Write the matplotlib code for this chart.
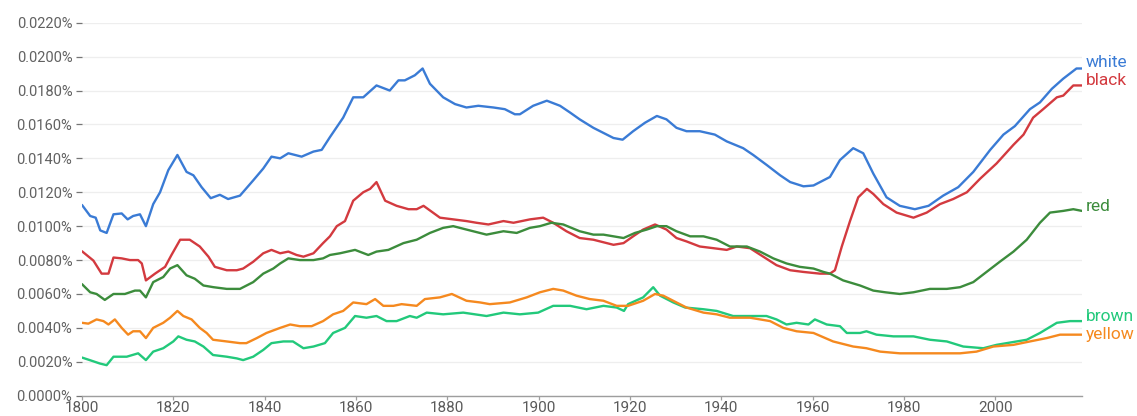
import matplotlib
matplotlib.use("Agg")
import matplotlib.pyplot as plt
from matplotlib.ticker import FuncFormatter

plt.rcParams['font.family'] = ['Roboto', 'DejaVu Sans']

# values in percent
white_years = [1800, 1801.8, 1803, 1804, 1805.4, 1806.9, 1808.7, 1810, 1811.2, 1812.7, 1814, 1815.6,
               1817.1, 1818.9, 1820.9, 1822.9, 1824.4, 1826.2, 1828.2, 1830.2, 1832, 1834.6, 1837.5,
               1839.7, 1841.5, 1843.4, 1845.2, 1848.1, 1850.7, 1852.5, 1854.3, 1857.2, 1859.4, 1861.6,
               1864.5, 1867.4, 1869.3, 1870.7, 1872.9, 1874.6, 1876.2, 1879.1, 1881.7, 1884.2, 1886.8,
               1890.1, 1892.6, 1894.8, 1895.9, 1898.8, 1901.8, 1904.7, 1906.9, 1909, 1912, 1914.2,
               1916.4, 1918.4, 1920.7, 1923.3, 1925.9, 1928, 1930.2, 1932.4, 1935.3, 1938.6, 1941.2,
               1944.8, 1947, 1950, 1952.9, 1955.1, 1958, 1960.2, 1963.8, 1966, 1968.9, 1971.1, 1973.3,
               1976.2, 1979.1, 1982.4, 1985.4, 1988.6, 1991.9, 1995.2, 1998.9, 2001.8, 2004.3, 2007.6,
               2009.8, 2012.4, 2014.9, 2017.8, 2019]
white = [0.01125, 0.0106, 0.0105, 0.00975, 0.0096, 0.0107, 0.01075, 0.0104, 0.0106, 0.0107, 0.0100, 0.0113,
         0.0120, 0.0133, 0.0142, 0.0132, 0.0130, 0.0123, 0.01165, 0.01185, 0.0116, 0.0118, 0.0127,
         0.0134, 0.0141, 0.0140, 0.0143, 0.0141, 0.0144, 0.0145, 0.01525, 0.0164, 0.0176, 0.0176,
         0.0183, 0.0180, 0.0186, 0.0186, 0.0189, 0.0193, 0.0184, 0.0176, 0.0172, 0.0170, 0.0171,
         0.0170, 0.0169, 0.0166, 0.0166, 0.0171, 0.0174, 0.0171, 0.0167, 0.0163, 0.0158, 0.0155,
         0.0152, 0.0151, 0.0156, 0.0161, 0.0165, 0.0163, 0.0158, 0.0156, 0.0156, 0.0154, 0.0150,
         0.0146, 0.0142, 0.0136, 0.0130, 0.0126, 0.01235, 0.0124, 0.0129, 0.0139, 0.0146, 0.0143, 0.0131,
         0.0117, 0.0112, 0.0110, 0.0112, 0.0118, 0.0123, 0.0132, 0.0145, 0.0154, 0.0159, 0.0169,
         0.0173, 0.0181, 0.0187, 0.0193, 0.0193]

black_years = [1800, 1802.5, 1804.3, 1805.8, 1806.9, 1808.7, 1810.5, 1812.3, 1813.1, 1814, 1816, 1818.2,
               1819.6, 1821.5, 1823.6, 1825.8, 1827.7, 1829.1, 1831.7, 1833.9, 1835.3, 1837.5, 1839.7,
               1841.5, 1843.4, 1845.2, 1847, 1848.5, 1850.7, 1852.8, 1854.3, 1855.8, 1857.6, 1859.4,
               1861.6, 1863.1, 1864.5, 1866.4, 1868.9, 1871.5, 1873.3, 1874.8, 1878.4, 1881.3, 1884.2,
               1886.4, 1889, 1892.3, 1894.5, 1898.1, 1901, 1903.2, 1906.1, 1909, 1912, 1916.4, 1918.6,
               1920.7, 1922.9, 1925.5, 1928, 1930.2, 1932.4, 1935.3, 1938.3, 1941.2, 1943.4, 1946.3,
               1949.2, 1952.1, 1955.1, 1958, 1961.6, 1963.8, 1964.9, 1966.4, 1968.2, 1970, 1971.9,
               1973.3, 1975.5, 1978.4, 1982.1, 1985, 1987.9, 1990.8, 1993.8, 1996.7, 2000.3, 2004,
               2006.2, 2008.3, 2010.5, 2013.5, 2014.9, 2017.1, 2019]
black = [0.00852, 0.00797, 0.0072, 0.0072, 0.00815, 0.0081, 0.0080, 0.0080, 0.0078, 0.0068, 0.0072, 0.0076,
         0.0083, 0.0092, 0.0092, 0.0088, 0.0082, 0.0076, 0.0074, 0.0074, 0.0075, 0.0079, 0.0084,
         0.0086, 0.0084, 0.0085, 0.0083, 0.0082, 0.0084, 0.0090, 0.0094, 0.0100, 0.0103, 0.0115,
         0.0120, 0.0122, 0.0126, 0.0115, 0.0112, 0.0110, 0.0110, 0.0112, 0.0105, 0.0104, 0.0103,
         0.0102, 0.0101, 0.0103, 0.0102, 0.0104, 0.0105, 0.0102, 0.0097, 0.0093, 0.0092, 0.0089, 0.0090,
         0.0094, 0.0098, 0.0101, 0.0098, 0.0093, 0.0091, 0.0088, 0.0087, 0.0086, 0.0088, 0.0087,
         0.0082, 0.0077, 0.0074, 0.0073, 0.0072, 0.0072, 0.0074, 0.0088, 0.0103, 0.0117, 0.0122,
         0.0119, 0.0113, 0.0108, 0.0105, 0.0108, 0.0113, 0.0116, 0.0120, 0.0128, 0.0137, 0.0148,
         0.0154, 0.0164, 0.0169, 0.0176, 0.0177, 0.0183, 0.0183]

red_years = [1800, 1801.8, 1803.2, 1805, 1806.9, 1809.4, 1811.6, 1812.7, 1814, 1815.6, 1817.8, 1819.3,
             1820.9, 1822.9, 1824.7, 1826.6, 1828.8, 1831.7, 1834.6, 1837.5, 1839.7, 1841.9, 1843.4,
             1845.2, 1847.7, 1850.7, 1852.8, 1854.3, 1856.5, 1859.8, 1862.7, 1864.5, 1867.1, 1870.4,
             1873.3, 1876.2, 1879.1, 1881.3, 1884.2, 1888.6, 1892.3, 1895.2, 1898.1, 1900.3, 1902.8,
             1905.4, 1909, 1912, 1914.2, 1916.4, 1918.6, 1921.1, 1923.7, 1925.9, 1928, 1930.2, 1933.2,
             1936.1, 1939, 1941.9, 1945.6, 1948.5, 1951.4, 1954.3, 1957.2, 1960.2, 1962.4, 1963.8,
             1966.7, 1970.4, 1973.3, 1975.9, 1979.1, 1982.1, 1985.7, 1989.4, 1992.3, 1995.2, 1998.1,
             2001, 2004, 2006.9, 2009.8, 2012, 2014.9, 2017.1, 2019]
red = [0.00658, 0.0061, 0.0060, 0.00565, 0.0060, 0.0060, 0.0062, 0.0062, 0.0058, 0.0067, 0.0070, 0.0075,
       0.0077, 0.0071, 0.0069, 0.0065, 0.0064, 0.0063, 0.0063, 0.0067, 0.0072, 0.0075, 0.0078,
       0.0081, 0.0080, 0.0080, 0.0081, 0.0083, 0.0084, 0.0086, 0.0083, 0.0085, 0.0086, 0.0090,
       0.0092, 0.0096, 0.0099, 0.0100, 0.0098, 0.0095, 0.0097, 0.0096, 0.0099, 0.0100, 0.0102,
       0.0101, 0.0097, 0.0095, 0.0095, 0.0094, 0.0093, 0.0096, 0.0098, 0.0100, 0.0100, 0.0097, 0.0094,
       0.0094, 0.0092, 0.0088, 0.0088, 0.0085, 0.0081, 0.0078, 0.0076, 0.0075, 0.0073, 0.0072,
       0.0068, 0.0065, 0.0062, 0.0061, 0.0060, 0.0061, 0.0063, 0.0063, 0.0064, 0.0067, 0.0073,
       0.0079, 0.0085, 0.0092, 0.0102, 0.0108, 0.0109, 0.0110, 0.0109]

brown_years = [1800, 1801.7, 1803.9, 1805.4, 1806.9, 1809.8, 1812.3, 1814, 1815.6, 1817.8, 1820, 1821.1,
               1822.9, 1824.7, 1826.6, 1828.7, 1831.7, 1833.9, 1835.3, 1837.5, 1839.7, 1841.5, 1844.1,
               1846.2, 1848.5, 1850.7, 1853.2, 1855, 1857.6, 1859.8, 1862.3, 1864.5, 1866.7, 1868.9,
               1871.8, 1873.3, 1875.5, 1879.1, 1883.5, 1888.6, 1892.3, 1895.9, 1899.9, 1903.2, 1906.9,
               1910.5, 1914.2, 1917.1, 1918.7, 1919.6, 1922.9, 1925.1, 1926.6, 1929.5, 1932.1, 1936.1,
               1939, 1942.6, 1946.3, 1949.9, 1952.1, 1954.3, 1956.5, 1959.1, 1960.5, 1963.1, 1966,
               1967.5, 1970.4, 1971.8, 1974, 1977.7, 1982.1, 1985.7, 1989.4, 1993, 1997.4, 2000.3,
               2004.7, 2006.9, 2009.8, 2013.5, 2016.4, 2019]
brown = [0.00225, 0.0021, 0.0019, 0.0018, 0.0023, 0.0023, 0.0025, 0.0021, 0.0026, 0.0028, 0.0032, 0.0035,
         0.0033, 0.0032, 0.0029, 0.0024, 0.0023, 0.0022, 0.0021, 0.0023, 0.0027, 0.0031, 0.0032,
         0.0032, 0.0028, 0.0029, 0.0031, 0.0037, 0.0040, 0.0047, 0.0046, 0.0047, 0.0044, 0.0044,
         0.0047, 0.0046, 0.0049, 0.0048, 0.0049, 0.0047, 0.0049, 0.0048, 0.0049, 0.0053, 0.0053,
         0.0051, 0.0053, 0.0052, 0.0050, 0.0054, 0.0058, 0.0064, 0.0059, 0.0055, 0.0052, 0.0051,
         0.0050, 0.0047, 0.0047, 0.0047, 0.0045, 0.0042, 0.0043, 0.0042, 0.0045, 0.0042, 0.0041,
         0.0037, 0.0037, 0.0038, 0.0036, 0.0035, 0.0035, 0.0033, 0.0032, 0.0029, 0.0028, 0.0030,
         0.0032, 0.0033, 0.0037, 0.0043, 0.0044, 0.0044]

yellow_years = [1800, 1801.4, 1803.2, 1804.7, 1805.8, 1807.2, 1808.7, 1810.1, 1811.2, 1812.7, 1814, 1815.6,
                1817.8, 1819.3, 1820.9, 1822.2, 1824, 1825.8, 1827.3, 1828.7, 1831.7, 1834.6, 1836,
                1838.3, 1840.4, 1843.4, 1845.6, 1847.7, 1850.3, 1852.8, 1855, 1857.2, 1859.4, 1862.3,
                1864.2, 1866, 1868.2, 1870, 1873.3, 1875.1, 1878.4, 1881, 1884.2, 1887.2, 1889.3, 1893.7,
                1897.4, 1900.3, 1903.2, 1905.4, 1908.3, 1911.2, 1914.2, 1917.1, 1919.6, 1922.9, 1925.5,
                1927.3, 1930.2, 1932.4, 1936.1, 1939, 1941.9, 1946.3, 1950.7, 1953.6, 1956.5, 1960.2,
                1964.5, 1968.9, 1971.8, 1974.8, 1979.1, 1984.3, 1992.3, 1995.9, 1999.6, 2004, 2007.6,
                2011.3, 2014.2, 2019]
yellow = [0.0043, 0.00425, 0.0045, 0.0044, 0.0042, 0.0045, 0.0040, 0.0036, 0.0038, 0.0038, 0.0034, 0.0040,
          0.0043, 0.0046, 0.0050, 0.0047, 0.0045, 0.0040, 0.0037, 0.0033, 0.0032, 0.0031, 0.0031,
          0.0034, 0.0037, 0.0040, 0.0042, 0.0041, 0.0041, 0.0044, 0.0048, 0.0050, 0.0055, 0.0054,
          0.0057, 0.0053, 0.0053, 0.0054, 0.0053, 0.0057, 0.0058, 0.0060, 0.0056, 0.0055, 0.0054, 0.0055,
          0.0058, 0.0061, 0.0063, 0.0062, 0.0059, 0.0057, 0.0056, 0.0053, 0.0053, 0.0056, 0.0060,
          0.0059, 0.0055, 0.0052, 0.0049, 0.0048, 0.0046, 0.0046, 0.0044, 0.0040, 0.0038, 0.0037,
          0.0032, 0.0029, 0.0028, 0.0026, 0.0025, 0.0025, 0.0025, 0.0026, 0.0029, 0.0030, 0.0032,
          0.0034, 0.0036, 0.0036]

series = [
    ("white", white_years, white, "#3a7bd5", 4.0),
    ("black", black_years, black, "#d33a3f", 3.2),
    ("red", red_years, red, "#3c8c3c", 3.0),
    ("brown", brown_years, brown, "#22c97b", 3.6),
    ("yellow", yellow_years, yellow, "#f5891f", 0.0),
]

fig = plt.figure(figsize=(11.37, 4.16), dpi=100)
ax = fig.add_axes([0.0721, 0.0488, 0.8795, 0.8966])

for name, xs, ys, color, dy in series:
    ax.plot(xs, ys, color=color, lw=1.7, solid_joinstyle="round", solid_capstyle="round")
    ax.annotate(name, (xs[-1], ys[-1]), xytext=(3, dy), textcoords="offset points",
                color=color, fontsize=12.5, va="center", ha="left", annotation_clip=False)

ax.set_xlim(1800, 2019)
ax.set_ylim(0, 0.022)
ax.set_yticks([i * 0.002 for i in range(12)])
ax.set_xticks(range(1800, 2001, 20))
ax.yaxis.set_major_formatter(FuncFormatter(lambda v, p: f"{v:.4f}%"))

ax.grid(axis="y", color="#eeeeee", lw=0.9)
ax.set_axisbelow(True)
for s in ["top", "right", "left"]:
    ax.spines[s].set_visible(False)
ax.spines["bottom"].set_color("#9e9e9e")
ax.spines["bottom"].set_linewidth(1.0)

ax.tick_params(axis="y", length=4, width=0.9, color="#757575", labelcolor="#616161",
               labelsize=10.5, pad=3)
ax.tick_params(axis="x", length=3, width=0.9, color="#9e9e9e", labelcolor="#5a5a5a",
               labelsize=11, pad=1, direction="out")

fig.savefig("out.png", dpi=100)
